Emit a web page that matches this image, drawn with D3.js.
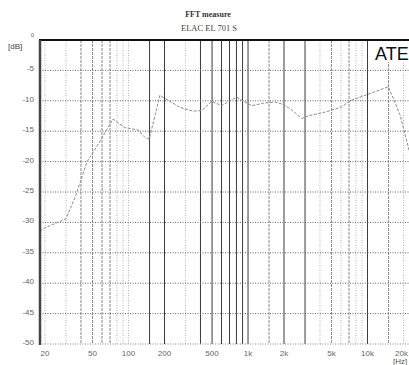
<!DOCTYPE html>
<html><head><meta charset="utf-8">
<script src="https://cdnjs.cloudflare.com/ajax/libs/d3/7.8.5/d3.min.js"></script>
<style>
html,body{margin:0;padding:0;background:#fff;}
svg{display:block;}
</style></head>
<body>
<svg id="chart" width="409" height="365"></svg>
<script>
// ---- data ----
const titleLine1 = "FFT measure";
const titleLine2 = "ELAC EL 701 S";
const brandText = "ATE";
const freqHz = [18, 20, 30, 36, 45, 58, 74, 93, 120, 137, 149, 183, 270, 346, 409, 497, 602, 706, 804, 907, 1074, 1343, 1682, 1975, 2318, 2812, 3303, 4553, 6080, 7131, 8650, 11170, 14920, 16440, 18700, 21280, 22500];
const levelDb = [-31.4, -30.9, -29.4, -25.7, -20, -16.6, -13.0, -14.4, -14.8, -16, -16.3, -9.1, -11.1, -11.7, -11.6, -10.1, -10.8, -10, -9.4, -10, -10.8, -10.4, -10.2, -10.6, -11.5, -12.9, -12.4, -11.8, -11.0, -10, -9.4, -8.6, -7.7, -9.6, -12.3, -16.6, -18.5];
const yTicks = [0, -5, -10, -15, -20, -25, -30, -35, -40, -45, -50];
const yGrid = [-5, -10, -15, -20, -25, -30, -35, -40, -45];
const xGridFreqs = [20, 30, 40, 50, 60, 70, 80, 90, 100, 150, 200, 300, 400, 500, 600, 700, 800, 900, 1000, 1500, 2000, 3000, 4000, 5000, 6000, 7000, 8000, 9000, 10000, 15000, 20000];
const heavyFreqs = [150, 200, 400, 500, 600, 700, 800, 900, 1000, 2000, 3000, 10000];
const mediumFreqs = [40, 50, 60, 70, 1500, 5000, 7000, 15000];
const xTickValues = [20, 50, 100, 200, 500, 1000, 2000, 5000, 10000, 20000];
const xTickLabels = ["20", "50", "100", "200", "500", "1k", "2k", "5k", "10k", "20k"];

// ---- layout ----
const W = 409, H = 365;
const plotLeft = 40, plotTop = 40, plotBottom = 344;
const svg = d3.select("#chart");

const x = d3.scaleLog().domain([20, 20000]).range([45, 403.5]);
const y = d3.scaleLinear().domain([0, -50]).range([plotTop, plotBottom]);

// vertical grid
const gv = svg.append("g");
gv.selectAll("line").data(xGridFreqs).join("line")
  .attr("x1", d => x(d)).attr("x2", d => x(d))
  .attr("y1", plotTop).attr("y2", plotBottom)
  .attr("stroke", d => heavyFreqs.includes(d) ? "#3a3a3a" : mediumFreqs.includes(d) ? "#8a8a8a" : "#b5b5b5")
  .attr("stroke-width", 1)
  .attr("stroke-dasharray", d => heavyFreqs.includes(d) ? null : mediumFreqs.includes(d) ? "3,1" : "1,1.5");

// horizontal grid
const gh = svg.append("g");
gh.selectAll("line").data(yGrid).join("line")
  .attr("x1", plotLeft).attr("x2", W)
  .attr("y1", d => y(d)).attr("y2", d => y(d))
  .attr("stroke", "#666").attr("stroke-width", 1).attr("stroke-dasharray", "1,1.5");

// bottom dotted
svg.append("line").attr("x1", plotLeft).attr("x2", W)
  .attr("y1", y(-50)).attr("y2", y(-50))
  .attr("stroke", "#888").attr("stroke-dasharray", "1,1.5");

// brand box
svg.append("rect").attr("x", 373).attr("y", plotTop + 1).attr("width", 40).attr("height", 21).attr("fill", "#fff");
svg.append("text").attr("x", 375).attr("y", 60)
  .attr("font-family", "Liberation Sans, Arial, sans-serif").attr("font-size", 18)
  .attr("fill", "#111").text(brandText);

// curve
const line = d3.line().x((d, i) => x(freqHz[i])).y(d => y(d));
svg.append("path").datum(levelDb)
  .attr("d", line).attr("fill", "none")
  .attr("stroke", "#8c8c8c").attr("stroke-width", 1).attr("stroke-dasharray", "3,1.5");

// frame
svg.append("line").attr("x1", plotLeft - 1).attr("x2", W).attr("y1", plotTop).attr("y2", plotTop)
  .attr("stroke", "#111").attr("stroke-width", 2);
svg.append("line").attr("x1", plotLeft).attr("x2", plotLeft).attr("y1", plotTop).attr("y2", plotBottom + 1)
  .attr("stroke", "#444").attr("stroke-width", 2.5);

// y labels
svg.append("g").selectAll("text").data(yTicks).join("text")
  .attr("x", 34).attr("y", d => d === 0 ? y(d) - 3 : y(d) + 1)
  .attr("text-anchor", "end")
  .attr("font-family", "Liberation Sans, Arial, sans-serif")
  .attr("font-size", d => d === 0 ? 6 : 8)
  .attr("fill", "#666").text(d => d === 0 ? "0" : d);
svg.append("text").attr("x", 8).attr("y", 49)
  .attr("font-family", "Liberation Sans, Arial, sans-serif").attr("font-size", 8)
  .attr("fill", "#444").text("[dB]");

// x labels
svg.append("g").selectAll("text").data(xTickValues).join("text")
  .attr("x", (d, i) => i === xTickValues.length - 1 ? x(d) - 2 : x(d)).attr("y", 356)
  .attr("text-anchor", "middle")
  .attr("font-family", "Liberation Sans, Arial, sans-serif").attr("font-size", 8)
  .attr("fill", "#666").text((d, i) => xTickLabels[i]);
svg.append("text").attr("x", 393).attr("y", 364)
  .attr("font-family", "Liberation Sans, Arial, sans-serif").attr("font-size", 8)
  .attr("fill", "#555").text("[Hz]");

// titles
svg.append("text").attr("x", 208).attr("y", 17).attr("text-anchor", "middle")
  .attr("font-family", "Liberation Serif, Times New Roman, serif").attr("font-size", 8)
  .attr("font-weight", "bold").attr("fill", "#333").text(titleLine1);
svg.append("text").attr("x", 209).attr("y", 31).attr("text-anchor", "middle")
  .attr("font-family", "Liberation Serif, Times New Roman, serif").attr("font-size", 8.5)
  .attr("fill", "#444").text(titleLine2);
</script>
</body></html>
